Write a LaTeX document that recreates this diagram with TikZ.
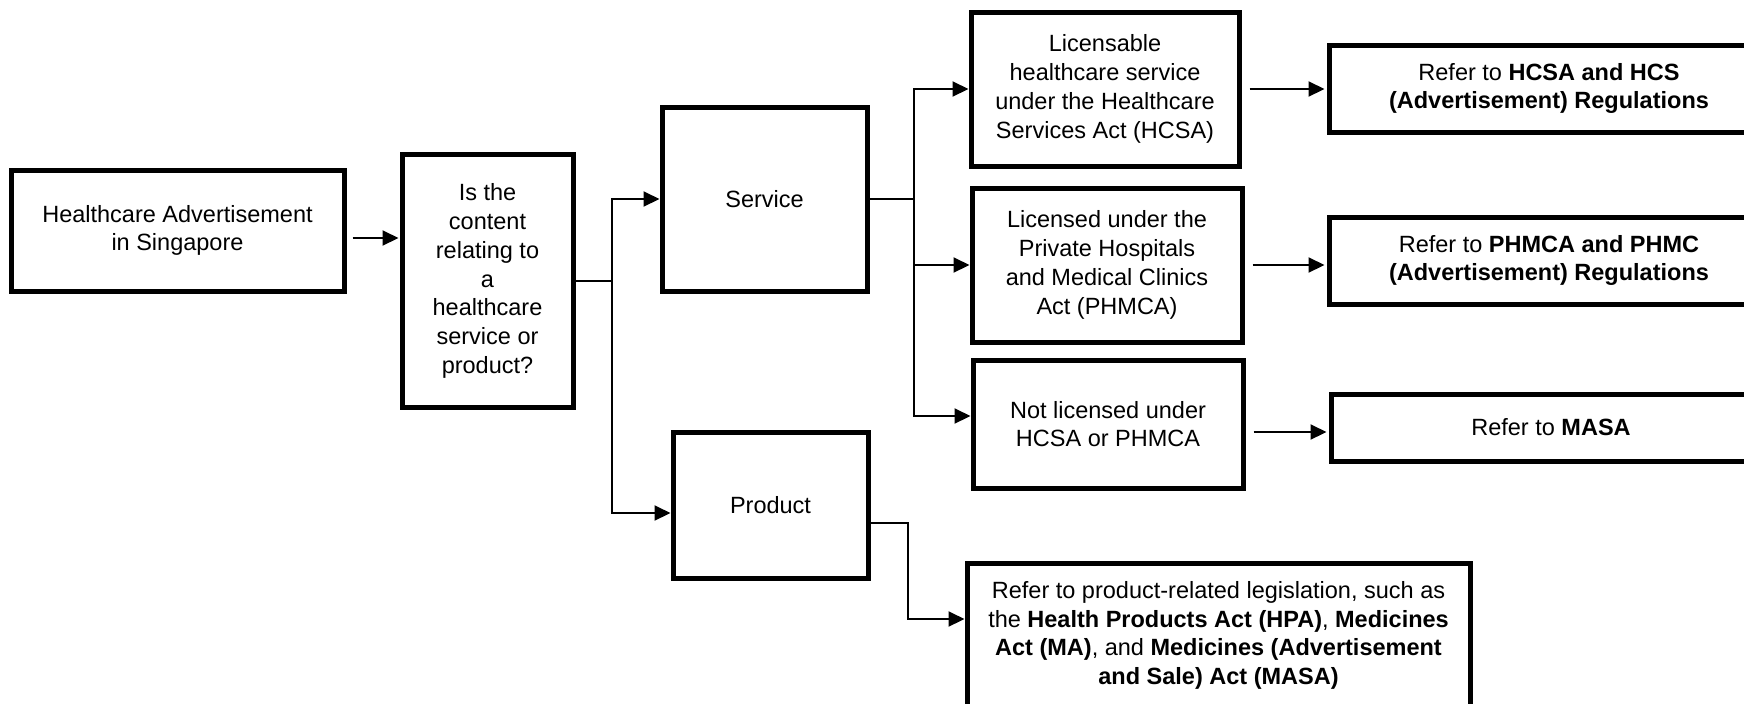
\documentclass[tikz,border=0pt]{standalone}
\usepackage{fontspec}
\setmainfont{Liberation Sans}
\usetikzlibrary{arrows.meta}

\begin{document}
\begin{tikzpicture}[x=0.5pt,y=-0.5pt,
    box/.style={draw,line width=2.5pt,align=center,inner sep=2pt,font=\fontsize{11.75}{14.4}\selectfont},
    arr/.style={-{Triangle[length=8pt,width=7.5pt]},line width=1pt},
    link/.style={line width=1pt}]
            \useasboundingbox (0,0) rectangle (1744,703);

            \node[box,minimum width=166.5pt,minimum height=60.5pt] (adv) at (177.5,230.5) {Healthcare Advertisement\\in Singapore};
            \node[box,minimum width=85.5pt,minimum height=126.5pt] (question) at (487.5,281) {Is the\\content\\relating to\\a\\healthcare\\service or\\product?};
            \node[box,minimum width=102.5pt,minimum height=92pt] (service) at (764.5,199) {Service};
            \node[box,minimum width=97.5pt,minimum height=73pt] (product) at (770.5,505) {Product};

            \node[box,minimum width=134pt,minimum height=77pt] (hcsa) at (1105,89) {Licensable\\healthcare service\\under the Healthcare\\Services Act (HCSA)};
            \node[box,minimum width=135pt,minimum height=77pt] (phmca) at (1107,265) {Licensed under the\\Private Hospitals\\and Medical Clinics\\Act (PHMCA)};
            \node[box,minimum width=135pt,minimum height=64pt] (notlic) at (1108,424) {Not licensed under\\HCSA or PHMCA};

            \node[box,minimum width=220pt,minimum height=43.5pt] (refhcsa) at (1549,88.5) {Refer to \textbf{HCSA and HCS}\\\textbf{(Advertisement) Regulations}};
            \node[box,minimum width=220pt,minimum height=43.5pt] (refphmca) at (1549,260.5) {Refer to \textbf{PHMCA and PHMC}\\\textbf{(Advertisement) Regulations}};
            \node[box,minimum width=220pt,minimum height=33.5pt] (refmasa) at (1551,427.5) {Refer to \textbf{MASA}};
            \node[box,minimum width=251.5pt,minimum height=72.5pt] (legis) at (1218.5,635.5) {Refer to product-related legislation, such as\\the \textbf{Health Products Act (HPA)}, \textbf{Medicines}\\\textbf{Act (MA)}, and \textbf{Medicines (Advertisement}\\\textbf{and Sale) Act (MASA)}};

            \coordinate (qfork) at (612,281);
            \coordinate (sfork) at (914,199);
            \coordinate (pbend) at (908,523);

            \draw[arr,shorten <=3pt,shorten >=0.5pt] ([yshift=-3.75pt]adv.east) -- ([yshift=-3.75pt]adv.east -| question.west);
            \draw[link] (question.east) -- (qfork);
            \draw[arr] (qfork) |- (service.west);
            \draw[arr] (qfork) |- ([yshift=-4pt]product.west);
            \draw[link] (service.east) -- (sfork);
            \draw[arr] (sfork) |- (hcsa.west);
            \draw[arr] (sfork) |- (phmca.west);
            \draw[arr] (sfork) |- ([yshift=4pt]notlic.west);
            \draw[arr,shorten <=4pt,shorten >=1pt] (hcsa.east) -- (hcsa.east -| refhcsa.west);
            \draw[arr,shorten <=4pt,shorten >=1pt] (phmca.east) -- (phmca.east -| refphmca.west);
            \draw[arr,shorten <=4pt,shorten >=1pt] ([yshift=-4pt]notlic.east) -- ([yshift=-4pt]notlic.east -| refmasa.west);
            \draw[arr] ([yshift=-9pt]product.east) -- (pbend) |- ([yshift=8.25pt]legis.west);
        \end{tikzpicture}
\end{document}
